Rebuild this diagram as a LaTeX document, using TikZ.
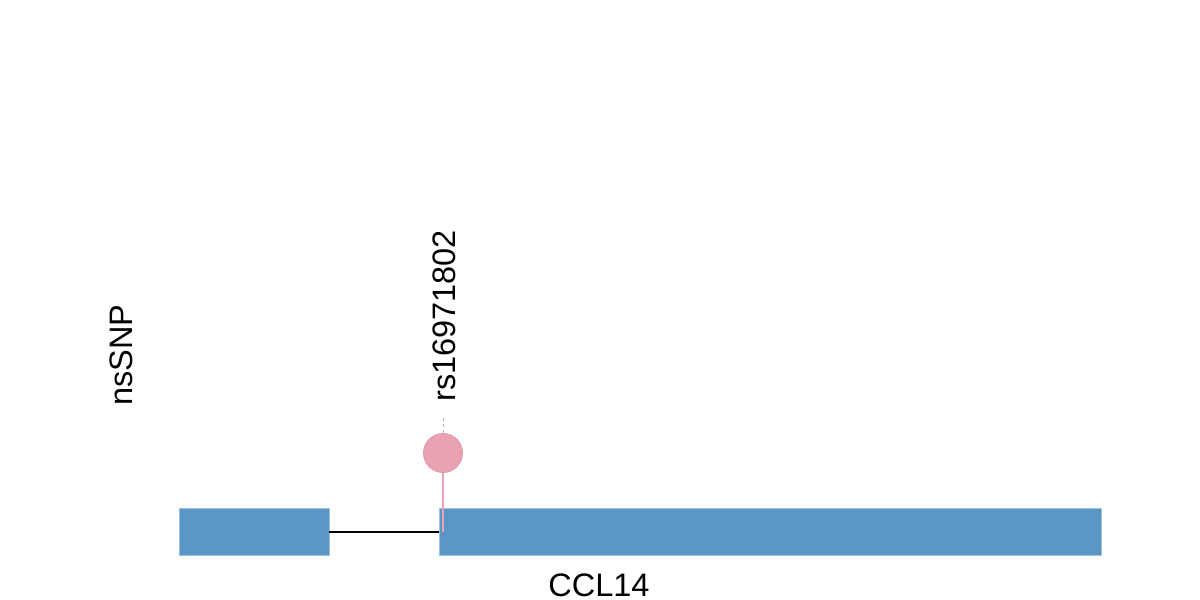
\documentclass[tikz,border=0pt]{standalone}
\usepackage{fontspec}
\setmainfont{Liberation Sans}
\definecolor{exonblue}{HTML}{5B97C4}
\definecolor{exonedge}{HTML}{9CC0DD}
\definecolor{snppink}{HTML}{E8A2B2}
\definecolor{snpedge}{HTML}{E594A8}
\definecolor{dashgray}{HTML}{BBBBBB}
\tikzset{
  exon/.style={fill=exonblue, draw=exonedge, line width=0.6pt},
  lbl/.style={font=\fontsize{32.5}{38}\selectfont, inner sep=0pt},
  snpdot/.style={circle, fill=snppink, draw=snpedge, line width=0.8pt, minimum size=39pt, inner sep=0pt},
}
\begin{document}
\begin{tikzpicture}[x=1pt,y=-1pt]
\useasboundingbox (0,0) rectangle (1200,600);
% exons
\path[exon] (179,508) rectangle (329,555);
\path[exon] (439,508) rectangle (1101,555);
\coordinate (e1r) at (329,532);
\coordinate (e2l) at (439,532);
\draw[line width=2pt] (e1r) -- (e2l);
% SNP
\coordinate (stemb) at (443,532);
\node[snpdot] (snp) at (443,453) {};
\draw[snppink, line width=2pt] (stemb) -- (snp.south);
\coordinate (dtop) at (443,418);
\draw[dashgray, line width=1pt, dash pattern=on 3pt off 3pt] (snp.north) -- (dtop);
% labels
\node[lbl, rotate=90, anchor=base west] (rs) at (455,402) {rs16971802};
\node[lbl, rotate=90, anchor=base] (ns) at (132,355) {nsSNP};
\node[lbl, anchor=base] (gene) at (599,596) {CCL14};
\end{tikzpicture}
\end{document}
